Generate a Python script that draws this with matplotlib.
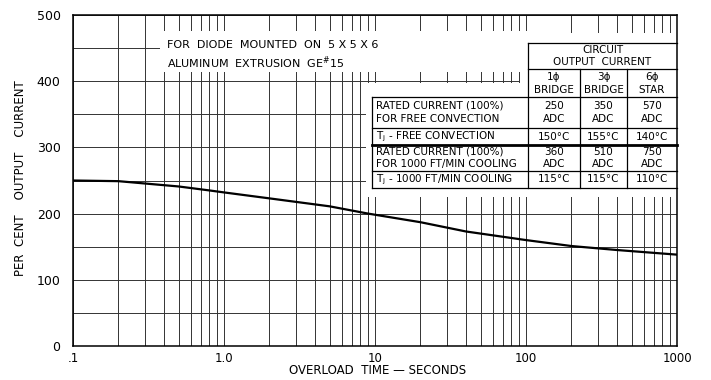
import matplotlib
matplotlib.use("Agg")
import matplotlib.pyplot as plt
from matplotlib.patches import Rectangle
from matplotlib.ticker import FixedLocator, NullFormatter

# overload curve
time_s = [0.1, 0.2, 0.5, 0.8, 1.0, 2.0, 5.0, 9.0, 20, 40, 100, 200, 400, 1000]
pct_current = [250, 249, 241, 235, 232, 223, 211, 200, 187, 173, 160, 151, 145, 138]

x_ticks = [0.1, 1, 10, 100, 1000]
x_tick_labels = [".1", "1.0", "10", "100", "1000"]
y_ticks = [0, 100, 200, 300, 400, 500]

note_lines = ["FOR  DIODE  MOUNTED  ON  5 X 5 X 6", r"ALUMINUM  EXTRUSION  GE$^{\#}$15"]
circuit_cols = [("1ϕ", "BRIDGE"), ("3ϕ", "BRIDGE"), ("6ϕ", "STAR")]
row_labels = [
    ("RATED CURRENT (100%)", "FOR FREE CONVECTION"),
    (r"T$_\mathregular{j}$ - FREE CONVECTION",),
    ("RATED CURRENT (100%)", "FOR 1000 FT/MIN COOLING"),
    (r"T$_\mathregular{j}$ - 1000 FT/MIN COOLING",),
]
row_values = [
    [("250", "ADC"), ("350", "ADC"), ("570", "ADC")],
    [("150°C",), ("155°C",), ("140°C",)],
    [("360", "ADC"), ("510", "ADC"), ("750", "ADC")],
    [("115°C",), ("115°C",), ("110°C",)],
]

W, H = 711, 380
fig = plt.figure(figsize=(W / 100, H / 100), dpi=100)
ax = fig.add_axes([73 / W, (H - 346) / H, (677 - 73) / W, (346 - 15) / H])

ax.set_xscale("log")
ax.set_xlim(0.1, 1000)
ax.set_ylim(0, 500)

grid_kw = dict(color="#333333", linewidth=0.7, zorder=1)
ax.xaxis.set_major_locator(FixedLocator(x_ticks))
ax.xaxis.set_minor_locator(FixedLocator(
    [m * 10.0 ** e for e in range(-1, 3) for m in range(2, 10)]))
ax.xaxis.set_minor_formatter(NullFormatter())
ax.set_xticklabels(x_tick_labels)
ax.yaxis.set_major_locator(FixedLocator(y_ticks))
ax.yaxis.set_minor_locator(FixedLocator(list(range(50, 500, 100))))
ax.grid(True, which="both", axis="both", **grid_kw)
ax.set_axisbelow(True)
ax.tick_params(which="both", length=0)
ax.tick_params(axis="y", labelsize=9, pad=9)
ax.tick_params(axis="x", labelsize=8.5, pad=4)
for s in ax.spines.values():
    s.set_linewidth(1.1)

ax.plot(time_s, pct_current, color="black", linewidth=1.6, zorder=3)


def fx(px):
    return (px - 73) / (677 - 73)


def fy(py):
    return (346 - py) / (346 - 15)


ax.set_xlabel("OVERLOAD  TIME — SECONDS", fontsize=8.5)
ax.xaxis.set_label_coords(fx(378), fy(364))
ax.set_ylabel("PER  CENT    OUTPUT    CURRENT", fontsize=8.5)
ax.yaxis.set_label_coords(fx(27), fy(178))


def white(x0, y0, x1, y1):
    ax.add_patch(Rectangle((fx(x0), fy(y1)), fx(x1) - fx(x0), fy(y0) - fy(y1),
                           transform=ax.transAxes, facecolor="white",
                           edgecolor="none", zorder=2))


def hline(x0, x1, py, lw=0.9):
    ax.plot([fx(x0), fx(x1)], [fy(py), fy(py)], transform=ax.transAxes,
            color="black", linewidth=lw, zorder=4, clip_on=False)


def vline(px, y0, y1, lw=0.9):
    ax.plot([fx(px), fx(px)], [fy(y0), fy(y1)], transform=ax.transAxes,
            color="black", linewidth=lw, zorder=4, clip_on=False)


def txt(px, py, s, ha="left", size=7.5):
    ax.text(fx(px), fy(py), s, transform=ax.transAxes, ha=ha, va="center",
            fontsize=size, zorder=5)


# note in the upper left
white(160, 31, 528, 72)
for i, line in enumerate(note_lines):
    txt(167, 45 + 18 * i, line, size=8)

# table
white(520, 33, 677, 96)
white(366, 83, 677, 197)

left, c1, c2, c3, right = 372, 528, 580, 627, 677
hline(c1, right, 43)
hline(c1, right, 69)
hline(left, right, 96.5)
row_bottoms = [128, 145, 171, 188]
row_lw = [0.9, 2.0, 0.9, 0.9]
for yb, lw in zip(row_bottoms, row_lw):
    hline(left, right, yb, lw)
vline(c1, 43, 188)
vline(left, 96.5, 188)
vline(c2, 69, 188)
vline(c3, 69, 188)

txt((c1 + right) / 2, 50, "CIRCUIT", ha="center")
txt((c1 + right) / 2, 62, "OUTPUT  CURRENT", ha="center")
col_centers = [(c1 + c2) / 2, (c2 + c3) / 2, (c3 + right) / 2]
for xc, (a, b) in zip(col_centers, circuit_cols):
    txt(xc, 77, a, ha="center")
    txt(xc, 90, b, ha="center")

row_tops = [96.5] + row_bottoms[:-1]
for top, bot, labels, vals in zip(row_tops, row_bottoms, row_labels, row_values):
    mid = (top + bot) / 2
    step = 12.5
    ys = [mid] if len(labels) == 1 else [mid - step / 2, mid + step / 2]
    for y, s in zip(ys, labels):
        txt(376, y, s)
    for xc, v in zip(col_centers, vals):
        vys = [mid] if len(v) == 1 else [mid - step / 2, mid + step / 2]
        for y, s in zip(vys, v):
            txt(xc, y, s, ha="center")

fig.savefig("out.png", dpi=100)
